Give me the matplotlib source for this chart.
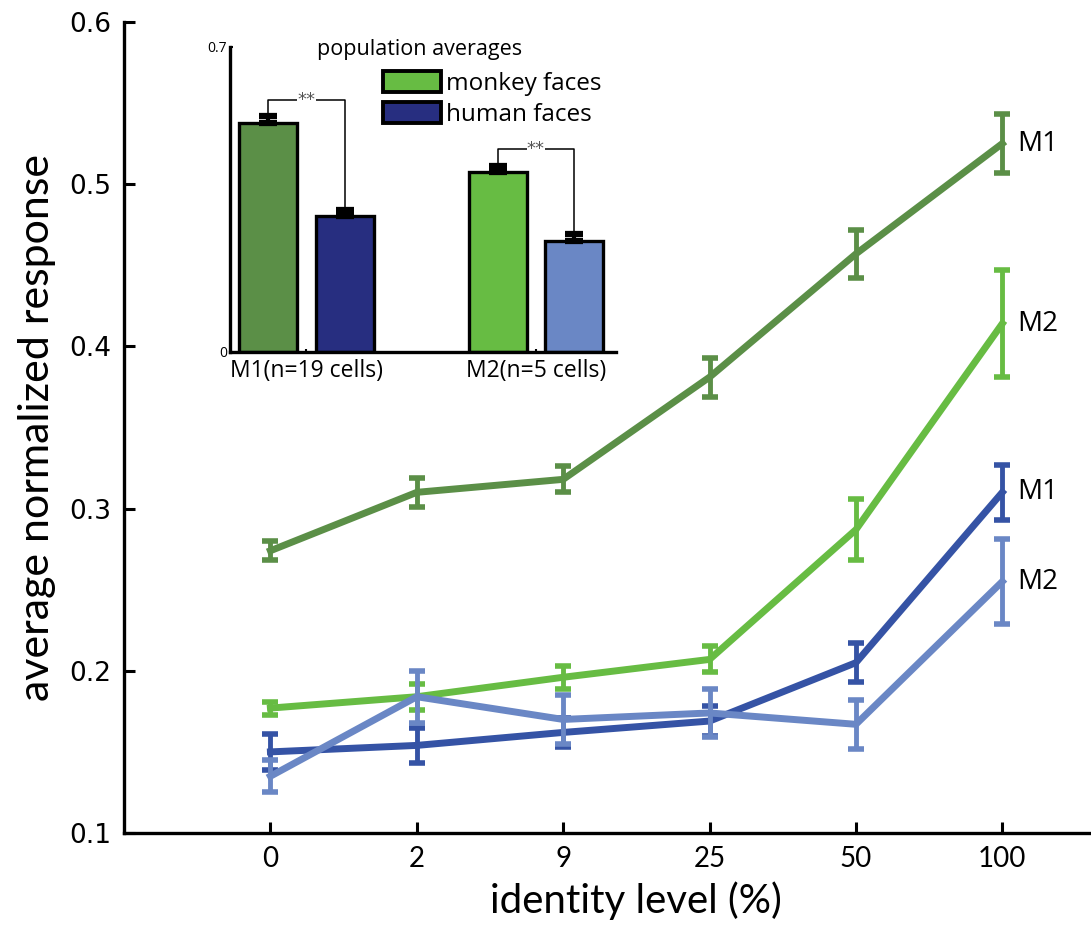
import matplotlib
matplotlib.use("Agg")
import matplotlib.pyplot as plt
from matplotlib.patches import Patch
import numpy as np

# identity morph levels (%)
levels = ["0", "2", "9", "25", "50", "100"]

# main panel: average normalized response +/- sem
m1_monkey = [0.274, 0.310, 0.318, 0.381, 0.457, 0.525]
m1_monkey_err = [0.006, 0.009, 0.008, 0.012, 0.015, 0.018]
m2_monkey = [0.177, 0.184, 0.196, 0.207, 0.287, 0.414]
m2_monkey_err = [0.004, 0.008, 0.007, 0.008, 0.019, 0.033]
m1_human = [0.150, 0.154, 0.162, 0.169, 0.205, 0.310]
m1_human_err = [0.011, 0.011, 0.009, 0.009, 0.012, 0.017]
m2_human = [0.135, 0.184, 0.170, 0.174, 0.167, 0.255]
m2_human_err = [0.010, 0.016, 0.015, 0.015, 0.015, 0.026]

# inset: population averages
groups = ["M1(n=19 cells)", "M2(n=5 cells)"]
pop_monkey = [0.525, 0.413]
pop_monkey_err = [0.016, 0.013]
pop_human = [0.312, 0.255]
pop_human_err = [0.014, 0.015]
bracket_level = [0.578, 0.466]

DKGREEN = "#5b8f47"
LTGREEN = "#67bc43"
DKBLUE = "#3553a5"
LTBLUE = "#6a87c5"
NAVY = "#272e80"

fig = plt.figure(figsize=(10.91, 9.27), dpi=100)

# ---- main panel ----
ax = fig.add_axes([0.1137, 0.1014, 0.8855, 0.875])
x = np.arange(1, len(levels) + 1)
series = [
    (m1_monkey, m1_monkey_err, DKGREEN, "M1"),
    (m2_monkey, m2_monkey_err, LTGREEN, "M2"),
    (m1_human, m1_human_err, DKBLUE, "M1"),
    (m2_human, m2_human_err, LTBLUE, "M2"),
]
for i, (vals, err, col, lab) in enumerate(series):
    ax.errorbar(x, vals, yerr=err, color=col, lw=5, elinewidth=3.5,
                capsize=5.5, capthick=4, zorder=3 + i)
    ax.annotate(lab, (x[-1], vals[-1]), xytext=(11, 0),
                textcoords="offset points", va="center", ha="left",
                fontsize=20, family="Open Sans")

ax.set_xlim(0, 6.6)
ax.set_ylim(0.1, 0.6)
ax.set_xticks(x)
ax.set_xticklabels(levels, family="Lato", fontsize=20)
ax.set_yticks([0.1, 0.2, 0.3, 0.4, 0.5, 0.6])
ax.set_yticklabels(["0.1", "0.2", "0.3", "0.4", "0.5", "0.6"],
                   family="DejaVu Sans", fontsize=19)
ax.tick_params(direction="in", length=8, width=2.2, pad=9)
for s in ["top", "right"]:
    ax.spines[s].set_visible(False)
for s in ["left", "bottom"]:
    ax.spines[s].set_linewidth(2.4)
ax.set_ylabel("average normalized response", family="Lato", fontsize=31)
ax.yaxis.set_label_coords(-0.07, 0.5)
ax.set_xlabel("identity level (%)", family="Lato", fontsize=29)
ax.xaxis.set_label_coords(0.53, -0.06)

# ---- inset ----
ia = fig.add_axes([0.2108, 0.6203, 0.354, 0.329])
ia.set_xlim(0.5, 5.55)
ia.set_ylim(0, 0.7)
pos_monkey = [1, 4]
pos_human = [2, 5]
ia.bar(pos_monkey, pop_monkey, width=0.76, color=[DKGREEN, LTGREEN],
       edgecolor="black", linewidth=2.4, zorder=2)
ia.bar(pos_human, pop_human, width=0.76, color=[NAVY, LTBLUE],
       edgecolor="black", linewidth=2.4, zorder=2)
ia.errorbar(pos_monkey + pos_human, pop_monkey + pop_human,
            yerr=[[0] * 4, pop_monkey_err + pop_human_err],
            fmt="none", ecolor="black", elinewidth=3, capsize=6.5,
            capthick=4.5, zorder=3)
for pm, ph, vm, em, vh, eh, lev in zip(pos_monkey, pos_human, pop_monkey,
                                       pop_monkey_err, pop_human,
                                       pop_human_err, bracket_level):
    ia.plot([pm, pm, ph, ph], [vm + em, lev, lev, vh + eh], color="black",
            lw=1.1, zorder=4)
    ia.text((pm + ph) / 2, lev, "**", ha="center", va="center", fontsize=13,
            color="#555555", zorder=5,
            bbox=dict(facecolor="white", edgecolor="none", pad=0.3))

ia.set_xticks([1.5, 4.5])
ia.set_xticklabels(groups, fontsize=16.5, family="Open Sans")
ia.set_yticks([0, 0.7])
ia.set_yticklabels(["0", "0.7"], fontsize=10, family="Open Sans")
ia.tick_params(direction="in", length=2, width=1.5, pad=2)
ia.tick_params(axis="x", pad=5)
for s in ["top", "right"]:
    ia.spines[s].set_visible(False)
for s in ["left", "bottom"]:
    ia.spines[s].set_linewidth(2.4)
ia.patch.set_alpha(0)
ia.text(0.49, 0.975, "population averages", transform=ia.transAxes,
        ha="center", va="baseline", fontsize=15.5, family="Open Sans")

handles = [Patch(facecolor=LTGREEN, edgecolor="black", linewidth=2.8),
           Patch(facecolor=NAVY, edgecolor="black", linewidth=2.8)]
ia.legend(handles, ["monkey faces", "human faces"], loc="upper left",
          bbox_to_anchor=(0.395, 0.92), frameon=False,
          prop={"family": "Open Sans", "size": 17.5},
          handlelength=2.4, handleheight=0.95, handletextpad=0.22,
          labelspacing=0.25, borderpad=0, borderaxespad=0)

fig.savefig("out.png", dpi=100)
